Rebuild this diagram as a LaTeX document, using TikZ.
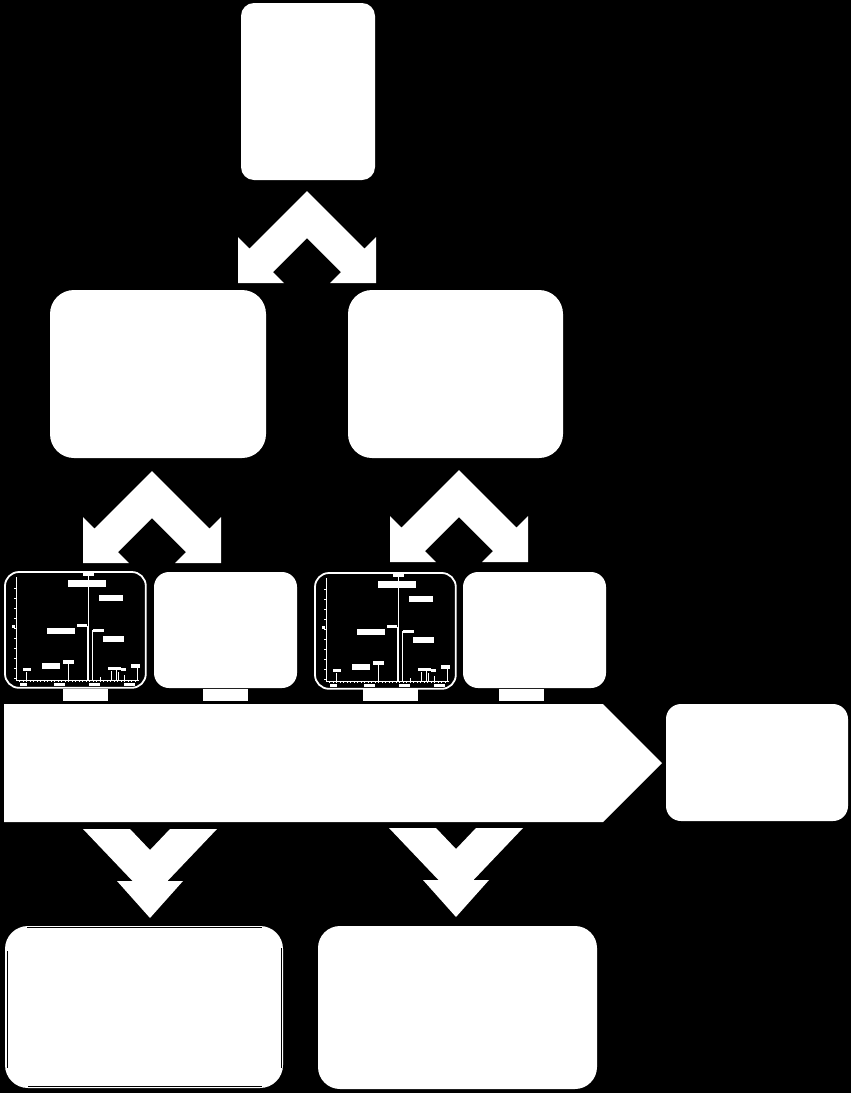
\documentclass[tikz,border=0pt]{standalone}
\usetikzlibrary{calc}
\tikzset{
  wbox/.style={fill=white, draw=none, inner sep=0pt, outer sep=0pt, anchor=north west},
  blockarrow/.style={fill=white, draw=none},
  frameline/.style={draw=white, line width=1.8pt},
  axisline/.style={draw=white, line width=0.9pt},
  peakline/.style={draw=white, line width=1pt},
  blob/.style={fill=white, draw=none},
  innerline/.style={draw=black, line width=0.6pt}
}
\newcommand\mychevron[2]{% apex x, apex y
  \fill[blockarrow] (#1,#2) -- ++(57.5,57.5) -- (#1+69,#2+46) -- (#1+69,#2+92) -- (#1+23,#2+92)
   -- (#1+34,#2+81) -- (#1,#2+47) -- (#1-34,#2+81) -- (#1-23,#2+92) -- (#1-69,#2+92)
   -- (#1-69,#2+46) -- (#1-57.5,#2+57.5) -- cycle;}
\newcommand\mydownarrow[2]{% centre x, top y
  \fill[blockarrow] (#1-67,#2) -- (#1-20,#2) -- (#1,#2+21) -- (#1+20,#2) -- (#1+67,#2)
   -- (#1+17.5,#2+52) -- (#1+33,#2+52) -- (#1,#2+89) -- (#1-33,#2+52) -- (#1-17.5,#2+52) -- cycle;}
\newcommand\myspectrum{%
  \draw[frameline, rounded corners=14pt] (5,572) rectangle (145.8,687.8);
  % axes
  \draw[axisline] (16,577) -- (16,680) -- (139,680);
  \foreach \yy in {588,598,...,678} {\draw[white, line width=0.5pt] (14,\yy) -- (16,\yy);}
  \foreach \xx in {19.5,23,...,137} {\draw[white, line width=0.4pt] (\xx,680) -- (\xx,681.6);}
  \fill[blob] (12,625) rectangle (14.5,628);
  % axis tick labels
  \fill[blob] (20,682.5) rectangle (27,685.5);
  \fill[blob] (54,682.5) rectangle (65,685.5);
  \fill[blob] (89,682.5) rectangle (100,685.5);
  \fill[blob] (124,682.5) rectangle (135,685.5);
  % peaks
  \draw[peakline] (88.5,680) -- (88.5,576);
  \fill[blob] (83,572) rectangle (94,576);
  \draw[peakline] (87,680) -- (87,626);
  \fill[blob] (77,623.5) rectangle (87,627);
  \draw[peakline] (92.5,680) -- (92.5,630);
  \fill[blob] (93,629) rectangle (104,632);
  \draw[peakline] (26,680) -- (26,672);
  \fill[blob] (23,668) rectangle (31,671);
  \draw[peakline] (68.3,680) -- (68.3,663);
  \fill[blob] (63,660) rectangle (74,663.5);
  \draw[peakline] (100,680) -- (100,677);
  \draw[peakline] (111,680) -- (111,671);
  \draw[peakline] (116,680) -- (116,670);
  \draw[peakline] (118.5,680) -- (118.5,672);
  \draw[peakline] (124,680) -- (124,675);
  \draw[peakline] (137,680) -- (137,668);
  \fill[blob] (108,667) rectangle (114,670);
  \fill[blob] (113,667) rectangle (121,670);
  \fill[blob] (121,668) rectangle (126,671);
  \fill[blob] (131,664) rectangle (140,668);
  % callout boxes
  \fill[blob] (68.3,580) rectangle (106,586.7);
  \fill[blob] (99,595) rectangle (122.7,600.7);
  \fill[blob] (47.3,627.7) rectangle (74.7,633.7);
  \fill[blob] (103,636) rectangle (123.7,642);
  \fill[blob] (42.3,662.7) rectangle (59.7,668.7);
}
\begin{document}
\begin{tikzpicture}[x=1pt, y=-1pt]
  \fill[black] (0,0) rectangle (851,1093);
  \useasboundingbox (0,0) rectangle (851,1093);

  % top box
  \node[wbox, rounded corners=13pt, minimum width=134pt, minimum height=177pt] (top) at (241,3) {};
  \mychevron{307}{191}

  % second level
  \node[wbox, rounded corners=24pt, minimum width=216pt, minimum height=168pt] (left) at (50,290) {};
  \node[wbox, rounded corners=24pt, minimum width=215pt, minimum height=168pt] (right) at (348,290) {};
  \mychevron{152}{471}
  \mychevron{459}{470}

  % third level
  \myspectrum
  \begin{scope}[shift={(310,1)}]
    \myspectrum
  \end{scope}
  \node[wbox, rounded corners=15pt, minimum width=143pt, minimum height=116pt] (boxb) at (154,572) {};
  \node[wbox, rounded corners=15pt, minimum width=143pt, minimum height=116pt] (boxd) at (463,572) {};

  % small labels under level three
  \node[wbox, minimum width=45pt, minimum height=12pt] (la) at (63,689) {};
  \node[wbox, minimum width=45pt, minimum height=12pt] (lb) at (203,689) {};
  \node[wbox, minimum width=55pt, minimum height=12pt] (lc) at (363,689) {};
  \node[wbox, minimum width=45pt, minimum height=12pt] (ld) at (499,689) {};

  % band arrow
  \fill[blockarrow] (4,704) -- (603,704) -- (662,763) -- (603,822) -- (4,822) -- cycle;
  \node[wbox, rounded corners=15pt, minimum width=182pt, minimum height=117pt] (side) at (666,704) {};

  % down arrows
  \mydownarrow{150}{829}
  \mydownarrow{456}{828}

  % bottom boxes
  \node[wbox, rounded corners=23pt, minimum width=278pt, minimum height=162pt] (botl) at (5,926) {};
  \draw[innerline] (27,927.4) -- (262,927.4);
  \draw[innerline] (28,1086.7) -- (262,1086.7);
  \draw[innerline] (7.3,951) -- (7.3,1068);
  \draw[innerline] (281.7,948) -- (281.7,1068);
  \node[wbox, rounded corners=22pt, minimum width=279pt, minimum height=163pt] (botr) at (318,926) {};
\end{tikzpicture}
\end{document}
